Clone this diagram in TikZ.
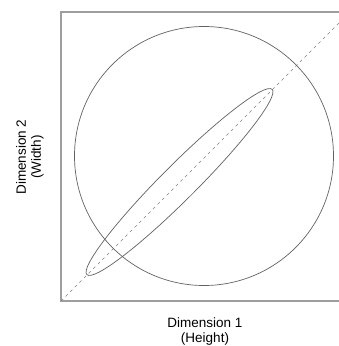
\documentclass[tikz,border=0pt]{standalone}
\usepackage{fontspec}
\setmainfont{Liberation Sans}
\begin{document}
\begin{tikzpicture}[x=1pt,y=-1pt,
  frame/.style={draw=black!38,line width=1.4pt},
  curve/.style={draw=black!62,line width=0.7pt},
  diag/.style={draw=black!50,line width=0.6pt,dash pattern=on 3pt off 3.5pt},
  lab/.style={font=\fontsize{13.5}{15}\selectfont,align=center,text=black,inner sep=0pt}]
\useasboundingbox (0,0) rectangle (339,346);
\clip (0,0) rectangle (339,346);
\coordinate (bl) at (61,301);
\coordinate (tr) at (350,12);
\draw[frame] (bl) rectangle (tr);
\draw[diag] (bl) -- (tr);
\draw[curve] (204,156) circle (129.5);
\draw[curve] (179.5,182) ellipse [x radius=131, y radius=17.5, rotate=45];
\node[lab] (xl) at (205,332) {Dimension 1\\(Height)};
\node[lab,rotate=90] (yl) at (30,157) {Dimension 2\\(Width)};
\end{tikzpicture}
\end{document}
